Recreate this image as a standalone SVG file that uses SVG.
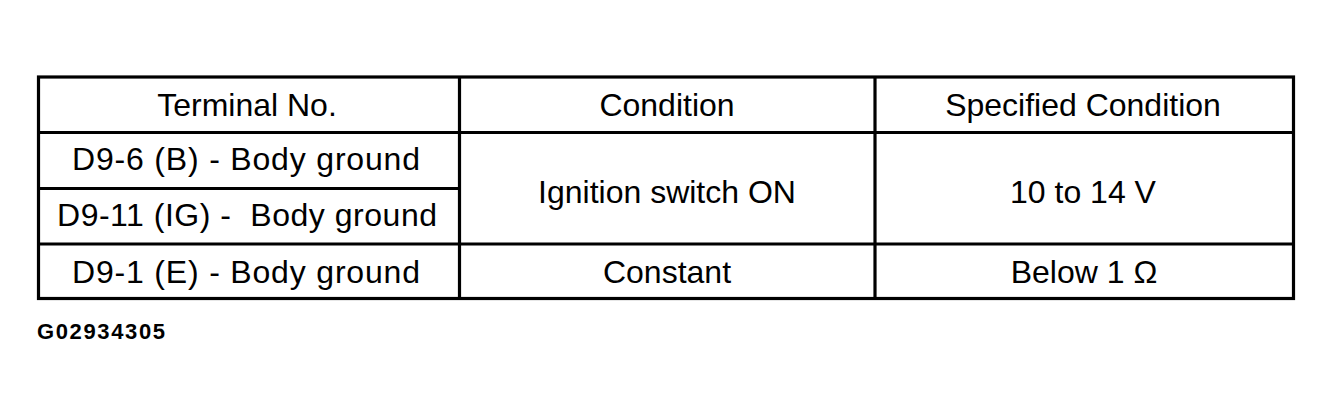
<svg xmlns="http://www.w3.org/2000/svg" width="1334" height="419" viewBox="0 0 1334 419">
<style>
.ln{stroke:#000;stroke-width:3.2;fill:none}
.t{font-family:"Liberation Sans",Arial,sans-serif;font-size:32px;fill:#000;text-anchor:middle}
.id{font-family:"Liberation Sans",Arial,sans-serif;font-size:22px;font-weight:bold;fill:#000}
</style>
<rect width="1334" height="419" fill="#fff"/>
<g id="grid">
<rect class="ln" x="38.5" y="77" width="1255" height="221.5"/>
<line class="ln" x1="38.5" y1="132.5" x2="1293.5" y2="132.5"/>
<line class="ln" x1="38.5" y1="188.5" x2="459.5" y2="188.5"/>
<line class="ln" x1="38.5" y1="244" x2="1293.5" y2="244"/>
<line class="ln" x1="459.5" y1="77" x2="459.5" y2="298.5"/>
<line class="ln" x1="875" y1="77" x2="875" y2="298.5"/>
</g>
<g id="header">
<text class="t" x="247" y="116">Terminal No.</text>
<text class="t" x="667" y="116">Condition</text>
<text class="t" x="1083" y="116">Specified Condition</text>
</g>
<g id="terminals">
<text class="t" x="246" y="170" textLength="348" lengthAdjust="spacing">D9-6 (B) - Body ground</text>
<text class="t" x="247" y="226" textLength="380" lengthAdjust="spacing" xml:space="preserve">D9-11 (IG) -  Body ground</text>
<text class="t" x="246" y="283" textLength="348" lengthAdjust="spacing">D9-1 (E) - Body ground</text>
</g>
<g id="conditions">
<text class="t" x="667" y="203">Ignition switch ON</text>
<text class="t" x="667" y="283">Constant</text>
</g>
<g id="specified">
<text class="t" x="1083" y="203">10 to 14 V</text>
<text class="t" x="1084" y="283">Below 1 Ω</text>
</g>
<text class="id" x="37" y="339" textLength="128" lengthAdjust="spacing">G02934305</text>
</svg>
